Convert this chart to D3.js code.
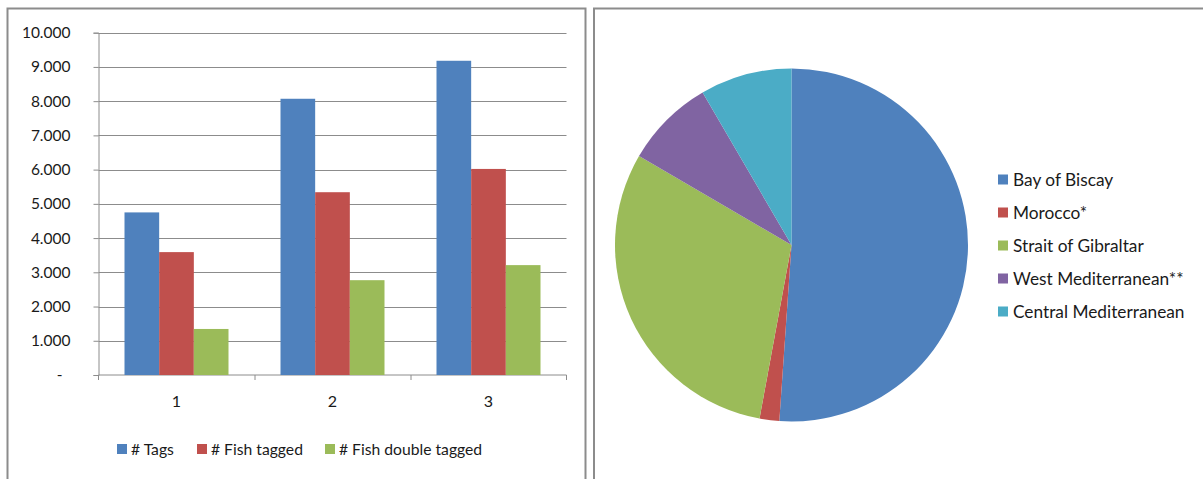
<!DOCTYPE html>
<html>
<head>
<meta charset="utf-8">
<script src="https://cdn.jsdelivr.net/npm/d3@7/dist/d3.min.js"></script>
<style>
  html, body { margin: 0; padding: 0; background: #fff; }
  svg { display: block; }
  text { font-family: Lato, "Open Sans", sans-serif; fill: #1a1a1a; }
</style>
</head>
<body>
<svg id="chart" width="1203" height="479"></svg>
<script>
// Tagging campaigns: counts per campaign
const campaigns = ["1", "2", "3"];
const seriesNames = ["# Tags", "# Fish tagged", "# Fish double tagged"];
const tags = [4750, 8070, 9180];
const fishTagged = [3590, 5340, 6020];
const fishDoubleTagged = [1345, 2770, 3210];
const yTicks = [0, 1000, 2000, 3000, 4000, 5000, 6000, 7000, 8000, 9000, 10000];

// Share of recaptures by area (%)
const areas = ["Bay of Biscay", "Morocco*", "Strait of Gibraltar", "West Mediterranean**", "Central Mediterranean"];
const areaShares = [51.1, 1.8, 30.5, 8.2, 8.4];

const barColors = ["#4F81BD", "#C0504D", "#9BBB59"];
const pieColors = ["#4F81BD", "#C0504D", "#9BBB59", "#8064A2", "#4BACC6"];

const svg = d3.select("#chart");
const frame = "#8c8c8c";

// Panel frames (open at the bottom, the right one runs off the page)
svg.append("path")
  .attr("d", "M7.5,479 V8.5 H585.5 V479")
  .attr("fill", "none").attr("stroke", frame).attr("stroke-width", 2);
svg.append("path")
  .attr("d", "M594,479 V8.5 H1203")
  .attr("fill", "none").attr("stroke", frame).attr("stroke-width", 2);

// ---------- Clustered bar chart ----------
const plot = { left: 98.5, right: 566.5, top: 32.7, bottom: 375 };

const x0 = d3.scaleBand().domain(campaigns).range([plot.left, plot.right]).paddingInner(0).paddingOuter(0);
// three bars per group, with 1.5 bar widths of gap shared between the group's two sides
const sidePad = x0.bandwidth() * (0.75 / 4.5);
const x1 = d3.scaleBand().domain(seriesNames).range([sidePad, x0.bandwidth() - sidePad]);
const y = d3.scaleLinear().domain([0, 10000]).range([plot.bottom, plot.top]);

const bar = svg.append("g");

// Gridlines
bar.append("g").selectAll("line")
  .data(yTicks.filter(d => d > 0))
  .join("line")
  .attr("x1", plot.left).attr("x2", plot.right)
  .attr("y1", d => Math.round(y(d)) + 0.5).attr("y2", d => Math.round(y(d)) + 0.5)
  .attr("stroke", "#8c8c8c").attr("stroke-width", 1);

// Y axis with accounting style labels
const fmt = d => d === 0 ? "-" : d3.format(",")(d).replace(/,/g, ".");
const yAxis = d3.axisLeft(y).tickValues(yTicks).tickFormat(fmt).tickSize(5).tickPadding(0);
const gy = bar.append("g").attr("transform", `translate(${plot.left},0)`).call(yAxis);
gy.select(".domain").attr("stroke", "#8c8c8c");
gy.selectAll(".tick line").attr("stroke", "#8c8c8c");
gy.selectAll(".tick text")
  .attr("x", d => d === 0 ? -36 : -28)
  .attr("font-size", 15.5)
  .attr("font-family", "Lato, sans-serif")
  .attr("fill", "#1a1a1a");

// X axis
const xAxis = d3.axisBottom(x0).tickSize(0).tickPadding(21);
const gx = bar.append("g").attr("transform", `translate(0,${plot.bottom})`).call(xAxis);
gx.select(".domain").attr("stroke", "#8c8c8c").attr("d", `M${plot.left},5V0H${plot.right}V5`);
gx.selectAll(".tick text").attr("font-size", 16).attr("font-family", "Lato, sans-serif").attr("fill", "#1a1a1a");
// category separators
bar.append("g").selectAll("line")
  .data(campaigns.slice(1))
  .join("line")
  .attr("x1", d => x0(d) + 0.5).attr("x2", d => x0(d) + 0.5)
  .attr("y1", plot.bottom).attr("y2", plot.bottom + 5)
  .attr("stroke", "#8c8c8c");

const rows = campaigns.map((c, i) => ({
  campaign: c,
  values: [tags[i], fishTagged[i], fishDoubleTagged[i]]
}));

bar.append("g").selectAll("g")
  .data(rows)
  .join("g")
  .attr("transform", d => `translate(${x0(d.campaign)},0)`)
  .selectAll("rect")
  .data(d => d.values.map((v, k) => ({ name: seriesNames[k], value: v, k })))
  .join("rect")
  .attr("x", d => x1(d.name))
  .attr("width", x1.bandwidth())
  .attr("y", d => y(d.value))
  .attr("height", d => y(0) - y(d.value))
  .attr("fill", d => barColors[d.k]);

// Bar legend
const barLegendX = [117, 197, 325];
const lg = bar.append("g").selectAll("g")
  .data(seriesNames)
  .join("g")
  .attr("transform", (d, i) => `translate(${barLegendX[i]},449)`);
lg.append("rect").attr("x", 0).attr("y", -5).attr("width", 10).attr("height", 10)
  .attr("fill", (d, i) => barColors[i]);
lg.append("text").attr("x", 14).attr("dy", "0.35em")
  .attr("font-size", 15.7).text(d => d);

// ---------- Pie chart ----------
const cx = 791.5, cy = 245, r = 176.5;
const pie = d3.pie().sort(null).startAngle(0).endAngle(2 * Math.PI);
const arc = d3.arc().innerRadius(0).outerRadius(r);
const pg = svg.append("g").attr("transform", `translate(${cx},${cy})`);
pg.selectAll("path")
  .data(pie(areaShares))
  .join("path")
  .attr("d", arc)
  .attr("fill", (d, i) => pieColors[i]);

// Pie legend
const pl = svg.append("g").selectAll("g")
  .data(areas)
  .join("g")
  .attr("transform", (d, i) => `translate(998,${179.5 + i * 33})`);
pl.append("rect").attr("x", 0).attr("y", -5).attr("width", 10).attr("height", 10)
  .attr("fill", (d, i) => pieColors[i]);
pl.append("text").attr("x", 15).attr("dy", "0.35em")
  .attr("font-size", 17.3).text(d => d);
</script>
</body>
</html>
